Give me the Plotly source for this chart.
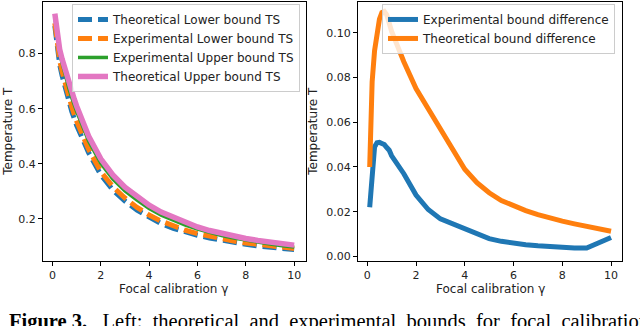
import plotly.graph_objects as go

# valores de gamma (eje x comun)
gamma = [0.1, 0.2, 0.3, 0.4, 0.5, 0.6, 0.7, 0.8, 0.9, 1.0, 1.5, 2.0, 2.5, 3.0, 3.5,
         4.0, 4.5, 5.0, 5.5, 6.0, 6.5, 7.0, 7.5, 8.0, 8.5, 9.0, 9.5, 10.0]

# panel izquierdo: cotas de temperatura
teo_inf = [0.90, 0.81, 0.76, 0.72, 0.685, 0.65, 0.62, 0.59, 0.565, 0.54, 0.44, 0.36, 0.305, 0.265, 0.232,
           0.205, 0.183, 0.166, 0.152, 0.141, 0.131, 0.122, 0.115, 0.108, 0.102, 0.097, 0.093, 0.089]
exp_inf = [0.91, 0.825, 0.775, 0.735, 0.70, 0.667, 0.637, 0.607, 0.58, 0.555, 0.452, 0.372, 0.317, 0.276, 0.242,
           0.214, 0.192, 0.174, 0.159, 0.147, 0.137, 0.128, 0.12, 0.113, 0.107, 0.102, 0.097, 0.093]
exp_sup = [0.93, 0.86, 0.80, 0.765, 0.73, 0.697, 0.668, 0.64, 0.614, 0.59, 0.482, 0.402, 0.345, 0.302, 0.268,
           0.238, 0.214, 0.195, 0.178, 0.163, 0.151, 0.14, 0.131, 0.123, 0.116, 0.109, 0.103, 0.098]
teo_sup = [0.945, 0.875, 0.815, 0.78, 0.748, 0.715, 0.687, 0.66, 0.635, 0.61, 0.50, 0.418, 0.36, 0.315, 0.28,
           0.25, 0.225, 0.206, 0.188, 0.171, 0.158, 0.147, 0.137, 0.129, 0.122, 0.116, 0.11, 0.105]

# panel derecho: diferencia entre cotas
dif_exp = [0.022, 0.040, 0.049, 0.0508, 0.051, 0.0505, 0.050, 0.0487, 0.0475, 0.045, 0.037, 0.0275, 0.021, 0.0168, 0.0145,
           0.0123, 0.010, 0.008, 0.0068, 0.0058, 0.0053, 0.0048, 0.0043, 0.0039, 0.0038, 0.0038, 0.0061, 0.0085]
dif_teo = [0.040, 0.078, 0.092, 0.100, 0.106, 0.109, 0.1095, 0.108, 0.1045, 0.1005, 0.087, 0.075, 0.066, 0.057, 0.047,
           0.039, 0.033, 0.0285, 0.025, 0.0225, 0.0205, 0.0187, 0.0171, 0.0158, 0.0146, 0.0135, 0.0124, 0.0113]

azul = "#1f77b4"
naranja = "#ff7f0e"
verde = "#2ca02c"
rosa = "#e377c2"

fig = go.Figure()

fig.add_trace(go.Scatter(x=gamma, y=teo_inf, mode="lines", name="Theoretical Lower bound TS",
                         line=dict(color=azul, width=5, dash="14px,6px"), xaxis="x", yaxis="y"))
fig.add_trace(go.Scatter(x=gamma, y=exp_inf, mode="lines", name="Experimental Lower bound TS",
                         line=dict(color=naranja, width=5, dash="14px,6px"), xaxis="x", yaxis="y"))
fig.add_trace(go.Scatter(x=gamma, y=exp_sup, mode="lines", name="Experimental Upper bound TS",
                         line=dict(color=verde, width=3.5), xaxis="x", yaxis="y"))
fig.add_trace(go.Scatter(x=gamma, y=teo_sup, mode="lines", name="Theoretical Upper bound TS",
                         line=dict(color=rosa, width=5.5), xaxis="x", yaxis="y"))

fig.add_trace(go.Scatter(x=gamma, y=dif_exp, mode="lines", name="Experimental bound difference",
                         line=dict(color=azul, width=5), xaxis="x2", yaxis="y2", legend="legend2"))
fig.add_trace(go.Scatter(x=gamma, y=dif_teo, mode="lines", name="Theoretical bound difference",
                         line=dict(color=naranja, width=5), xaxis="x2", yaxis="y2", legend="legend2"))

eje = dict(showline=True, linecolor="black", linewidth=1, mirror=True, ticks="outside",
           ticklen=4, tickcolor="black", showgrid=False, zeroline=False,
           tickfont=dict(size=11, color="#222"))

fig.update_layout(
    width=640, height=326,
    margin=dict(l=0, r=0, t=0, b=0),
    paper_bgcolor="white", plot_bgcolor="white",
    font=dict(family="DejaVu Sans", size=11, color="#222"),
    xaxis=dict(eje, domain=[43 / 640, 306 / 640], range=[-0.39, 10.49], tickvals=[0, 2, 4, 6, 8, 10]),
    yaxis=dict(eje, domain=[63 / 326, 324 / 326], range=[0.049, 0.987], tickvals=[0.2, 0.4, 0.6, 0.8]),
    xaxis2=dict(eje, domain=[358 / 640, 622 / 640], range=[-0.38, 10.45], tickvals=[0, 2, 4, 6, 8, 10],
                anchor="y2"),
    yaxis2=dict(eje, domain=[63 / 326, 324 / 326], range=[-0.0018, 0.1137],
                tickvals=[0, 0.02, 0.04, 0.06, 0.08, 0.10], tickformat=".2f", anchor="x2"),
    legend=dict(x=300 / 640, xanchor="right", y=322 / 326, yanchor="top",
                bgcolor="rgba(255,255,255,0.8)", bordercolor="#cccccc", borderwidth=1,
                font=dict(size=12), tracegroupgap=0),
    legend2=dict(x=615 / 640, xanchor="right", y=322 / 326, yanchor="top",
                 bgcolor="rgba(255,255,255,0.8)", bordercolor="#cccccc", borderwidth=1,
                 font=dict(size=12), tracegroupgap=0),
)

# titulos de ejes como anotaciones para fijar su posicion
for xc in [173, 490]:
    fig.add_annotation(text="Focal calibration γ", xref="paper", yref="paper",
                       x=xc / 640, y=(326 - 292) / 326, xanchor="center", yanchor="middle",
                       showarrow=False, font=dict(size=12, color="#222"))
for xc in [8, 313]:
    fig.add_annotation(text="Temperature T", xref="paper", yref="paper", textangle=-90,
                       x=xc / 640, y=(326 - 133) / 326, xanchor="center", yanchor="middle",
                       showarrow=False, font=dict(size=12, color="#222"))

# pie de figura (cortado en el original)
fig.add_annotation(
    text="<b>Figure 3.</b> &nbsp; Left: &nbsp;theoretical &nbsp;and &nbsp;experimental &nbsp;bounds &nbsp;for &nbsp;focal &nbsp;calibration",
    xref="paper", yref="paper", x=7 / 640, y=-12 / 326, xanchor="left", yanchor="bottom",
    showarrow=False, font=dict(family="Liberation Serif", size=20.5, color="black"),
)

# quitar el margen por defecto del body para que la figura quede en (0, 0)
fig.write_html("out.html", config={"displayModeBar": False},
               post_script="document.body.style.margin='0';")
